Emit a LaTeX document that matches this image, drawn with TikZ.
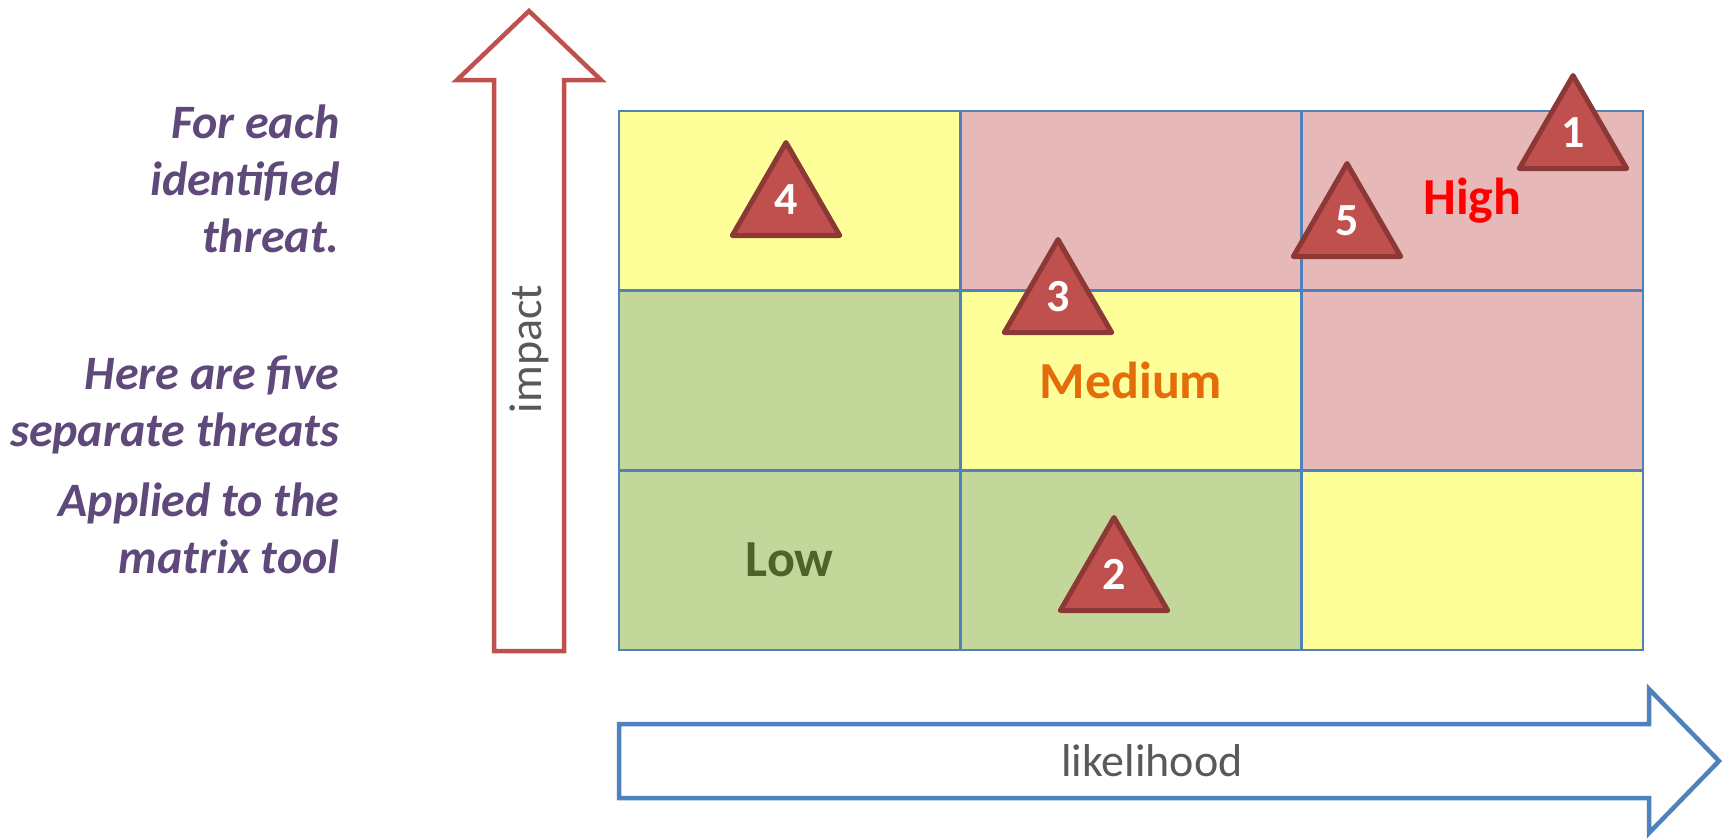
\documentclass[tikz,border=0pt]{standalone}
\usepackage{fontspec}
\setmainfont{Carlito}
\usetikzlibrary{shapes.geometric}

\definecolor{gridblue}{HTML}{4F81BD}
\definecolor{arrowred}{HTML}{C0504D}
\definecolor{threatdark}{HTML}{8C3836}
\definecolor{cellyellow}{HTML}{FFFF99}
\definecolor{cellpink}{HTML}{E6B9B8}
\definecolor{cellgreen}{HTML}{C4D79B}
\definecolor{lowgreen}{HTML}{4F6228}
\definecolor{medorange}{HTML}{E46C0A}
\definecolor{highred}{HTML}{FF0000}
\definecolor{notepurple}{HTML}{5F497A}
\definecolor{axisgray}{HTML}{595959}

\begin{document}
\begin{tikzpicture}[x=1pt,y=-1pt,
	cell/.style={draw=gridblue,line width=2.5pt,minimum width=341.33pt,minimum height=179.67pt,inner sep=0pt,outer sep=0pt,font=\fontsize{52}{60}\selectfont\bfseries},
	yel/.style={cell,fill=cellyellow},
	pnk/.style={cell,fill=cellpink},
	grn/.style={cell,fill=cellgreen},
	threat/.style={regular polygon,regular polygon sides=3,minimum size=124pt,inner sep=0pt,text depth=10pt,fill=arrowred,draw=threatdark,line width=5pt,line join=round,text=white,font=\fontsize{46}{50}\selectfont\bfseries},
	note/.style={anchor=base east,align=right,text=notepurple,font=\fontsize{48}{57}\selectfont\bfseries\itshape},
	axis/.style={text=axisgray,font=\fontsize{46}{50}\selectfont}]
	\useasboundingbox (0,0) rectangle (1729,839);
	% axes
	\draw[arrowred,line width=4.5pt,fill=white] (494,651) -- (494,80) -- (457,80) -- (529,11) -- (601,80) -- (564,80) -- (564,651) -- cycle;
	\draw[gridblue,line width=4.5pt,fill=white] (619,724) -- (1649,724) -- (1649,689) -- (1719,761) -- (1649,833) -- (1649,798) -- (619,798) -- cycle;
	\node[axis,rotate=90] (imp) at (529,349) {impact};
	\node[axis] (lik) at (1152,761) {likelihood};
	% matrix
	\matrix (m) [anchor=north west,row sep=-2.5pt,column sep=-2.5pt,inner sep=0pt,outer sep=0pt] at (617.75,109.75)
	{
		\node (a1) [yel] {}; & \node (a2) [pnk] {}; & \node (a3) [pnk,text=highred] {High};\\
		\node (b1) [grn] {}; & \node (b2) [yel,text=medorange] {Medium}; & \node (b3) [pnk] {};\\
		\node (c1) [grn,text=lowgreen] {Low}; & \node (c2) [grn] {}; & \node (c3) [yel] {};\\
	};
	% threats
	\node[threat] (t1) at (1573,137.5) {1};
	\node[threat] (t2) at (1114,579.5) {2};
	\node[threat] (t3) at (1058,301.5) {3};
	\node[threat] (t4) at (786,204.5) {4};
	\node[threat] (t5) at (1347,225.5) {5};
	% notes
	\node[note] (n1) at (343,252) {For each\\identified\\threat.};
	\node[note] (n2) at (343,446) {Here are five\\separate threats};
	\node[note] (n3) at (343,573) {Applied to the\\matrix tool};
\end{tikzpicture}
\end{document}
